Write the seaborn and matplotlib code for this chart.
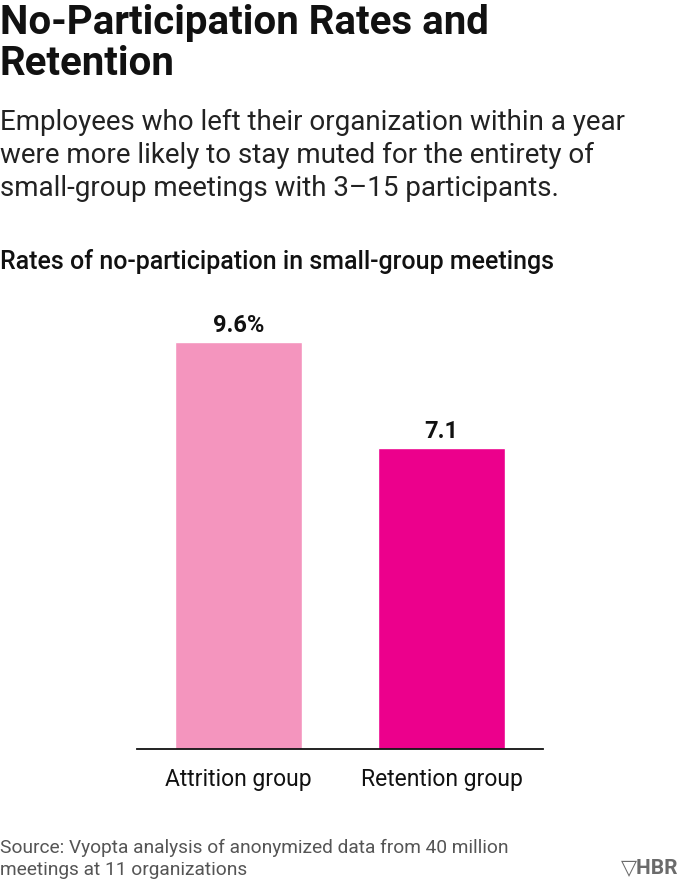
import numpy as np
import pandas as pd
import seaborn as sns
import matplotlib.pyplot as plt

# Data
groups = ["Attrition group", "Retention group"]
rates = [9.6, 7.1]
value_labels = ["9.6%", "7.1"]
bar_colors = ["#F495BE", "#EC008C"]

# Set seaborn
sns.set_style("white")
plt.rcParams['font.family'] = ['Roboto', 'DejaVu Sans']

fig = plt.figure(figsize=(6.8, 8.82), dpi=100)
ax = fig.add_axes([0.2015, 0.1508, 0.597, 0.5095])

df = pd.DataFrame({"group": groups, "rate": rates})
sns.barplot(data=df, x="group", y="rate", hue="group", palette=bar_colors,
            width=0.63, legend=False, ax=ax, saturation=1)

# Value labels
for i, (v, lbl) in enumerate(zip(rates, value_labels)):
    ax.text(i, v + 0.12, lbl, ha="center", va="bottom",
            fontsize=17, fontweight="bold", color="#111111")

ax.set_xlim(-0.5, 1.5)
ax.set_ylim(0, 10.6)
ax.set_xlabel("")
ax.set_ylabel("")
ax.set_yticks([])
ax.tick_params(axis="x", length=0, pad=14, labelsize=16.5, labelcolor="#111111")
for s in ["top", "right", "left"]:
    ax.spines[s].set_visible(False)
ax.spines["bottom"].set_color("#111111")
ax.spines["bottom"].set_linewidth(1.3)

# Header text
fig.text(0.0, 0.995, "No-Participation Rates and\nRetention", ha="left", va="top",
         fontsize=29, fontweight="bold", color="#111111", linespacing=1.08)
fig.text(0.0, 0.877,
         "Employees who left their organization within a year\n"
         "were more likely to stay muted for the entirety of\n"
         "small-group meetings with 3\u201315 participants.",
         ha="left", va="top", fontsize=20, color="#222222", linespacing=1.3)
fig.text(0.0, 0.718, "Rates of no-participation in small-group meetings",
         ha="left", va="top", fontsize=18, fontweight="medium", color="#111111")

# Footer
fig.text(0.0, 0.026,
         "Source: Vyopta analysis of anonymized data from 40 million\n"
         "meetings at 11 organizations",
         ha="left", va="center", fontsize=13.8, color="#555555", linespacing=1.25)
fig.text(0.997, 0.016, "\u25bdHBR", ha="right", va="center",
         fontsize=15, fontweight="bold", color="#6b6b6b")

fig.savefig("out.png", dpi=100)
